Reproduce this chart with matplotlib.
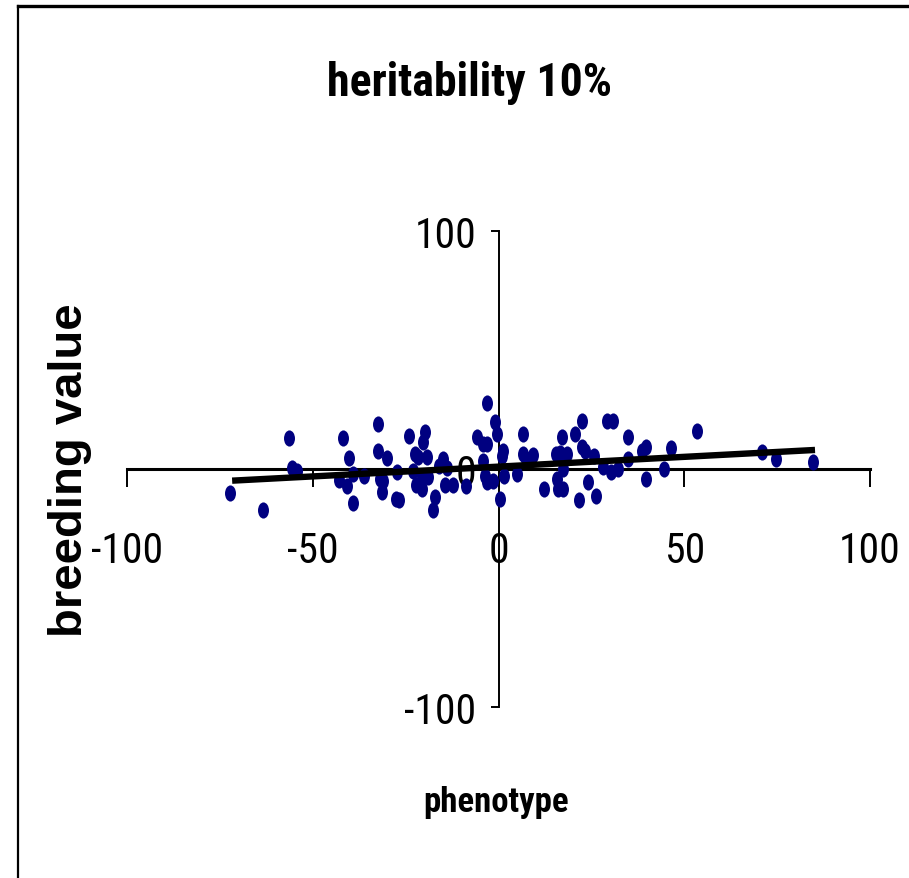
import numpy as np
import matplotlib
matplotlib.use("Agg")
import matplotlib.pyplot as plt
from matplotlib import font_manager
from matplotlib.path import Path
from matplotlib.transforms import Affine2D
from matplotlib.lines import Line2D

# ---------------- data ----------------
title = "heritability 10%"
x_label = "phenotype"
y_label = "breeding value"

phenotype = [
    -72.3, -63.5, -56.3, -55.7, -54.2, -41.8, -40.2, -39.2, -42.9, -40.8,
    -39.2, -3.2, -32.5, -24.0, -19.8, -20.2, -32.5, -29.9, -36.2, -31.9,
    -31.0, -31.4, -27.4, -27.6, -26.7, -22.5, -21.6, -19.2, -22.9, -20.7,
    -18.9, -22.2, -20.7, -17.1, -17.6, -14.9, -15.9, -13.9, -14.4, -12.3,
    -8.7, -5.9, -4.1, -3.2, -0.9, -0.5, -4.3, -3.6, -3.2, -1.4,
    1.3, 0.9, 0.4, 1.6, 6.7, 6.7, 7.4, 9.2, 5.1, 12.2,
    15.5, 16.6, 17.0, 18.5, 17.4, 15.8, 16.1, 17.4, 20.6, 22.6,
    22.4, 23.3, 25.8, 24.2, 21.7, 26.2, 29.3, 30.9, 28.2, 30.3,
    32.2, 34.9, 34.9, 38.5, 39.7, 39.7, 46.4, 44.6, 53.5, 71.0,
    74.6, 84.7,
]
breeding_value = [
    -10.1, -17.2, 13.2, 0.3, -0.7, 13.2, 4.5, -2.1, -4.6, -7.3,
    -14.4, 27.7, 18.9, 14.0, 15.4, 11.5, 7.7, 4.6, -2.8, -4.2,
    -4.9, -9.8, -1.4, -12.6, -12.9, 6.3, 4.9, 4.9, -0.7, -2.8,
    -3.5, -6.7, -8.4, -11.9, -17.1, 4.2, 1.1, 0.3, -6.7, -6.7,
    -7.0, 13.3, 10.5, 10.5, 19.6, 14.7, 3.5, -2.8, -5.6, -4.9,
    7.7, 5.6, -12.6, -2.8, 14.7, 6.3, 4.2, 5.9, -2.1, -8.4,
    6.3, 6.7, 13.3, 6.3, 0.0, -4.2, -8.4, -8.4, 14.7, 20.3,
    9.1, 7.7, 5.3, -5.6, -12.9, -11.5, 20.3, 20.3, 0.7, -1.4,
    0.0, 13.3, 4.2, 7.7, 9.1, -4.2, 8.8, 0.0, 16.1, 7.3,
    4.2, 3.1,
]
# linear trend line (end points)
trend_x = [-71.7, 85.2]
trend_y = [-4.9, 8.0]

x_ticks = [-100, -50, 0, 50, 100]
x_tick_labels = ["-100", "-50", "0", "50", "100"]
y_ticks = [-100, 0, 100]
y_tick_labels = ["-100", "0", "100"]

# ---------------- fonts ----------------
available = {f.name for f in font_manager.fontManager.ttflist}
def pick(cands):
    for c in cands:
        if c in available:
            return c
    return "DejaVu Sans"
narrow = pick(["Liberation Sans Narrow", "Arial Narrow", "Roboto Condensed",
               "Open Sans Condensed", "Liberation Sans"])
regular = pick(["Liberation Sans", "Arial", "DejaVu Sans"])

# ---------------- figure ----------------
W, H = 909, 879
fig = plt.figure(figsize=(W / 100, H / 100), dpi=100)
fig.patch.set_facecolor("white")

# chart-area frame (left and top edges visible)
fig.add_artist(Line2D([18 / W, 18 / W], [0, 1 - 7 / H], transform=fig.transFigure,
                      color="black", lw=1.6))
fig.add_artist(Line2D([18 / W, 1], [1 - 7 / H, 1 - 7 / H], transform=fig.transFigure,
                      color="black", lw=2.4))

ax = fig.add_axes([127 / W, 1 - 708 / H, (870 - 127) / W, (708 - 232) / H])
ax.set_xlim(-100, 100)
ax.set_ylim(-100, 100)
ax.patch.set_alpha(0)

for s in ("top", "right"):
    ax.spines[s].set_visible(False)
ax.spines["left"].set_position(("data", 0))
ax.spines["bottom"].set_position(("data", 0))
ax.spines["left"].set_linewidth(1.4)
ax.spines["bottom"].set_linewidth(2.2)

ax.set_xticks(x_ticks)
ax.set_xticklabels(x_tick_labels)
ax.set_yticks(y_ticks)
ax.set_yticklabels(y_tick_labels)
ax.tick_params(axis="x", direction="out", length=13, width=1.4, pad=31,
               labelsize=30)
ax.tick_params(axis="y", direction="out", length=6, width=1.4, pad=10,
               labelsize=30)
for lab in ax.get_xticklabels() + ax.get_yticklabels():
    lab.set_fontfamily(narrow)
    lab.set_zorder(10)

# elliptical marker (taller than wide)
ell = Path.unit_circle().transformed(Affine2D().scale(0.68, 1.0))
ax.scatter(phenotype, breeding_value, marker=ell, s=135, color="#000080",
           linewidths=0, zorder=3)

# linear trend line
ax.plot(trend_x, trend_y, color="black", lw=4.6, solid_capstyle="butt", zorder=4)

# texts
fig.text(470 / W, 1 - 83 / H, title, ha="center", va="center",
         fontsize=33, fontweight="bold", fontfamily=narrow)
fig.text(496 / W, 1 - 803 / H, x_label, ha="center", va="center",
         fontsize=25, fontweight="bold", fontfamily=narrow)
fig.text(70 / W, 1 - 470 / H, y_label, ha="center", va="center", rotation=90,
         fontsize=34, fontweight="bold", fontfamily=regular)

fig.savefig("out.png", dpi=100)
